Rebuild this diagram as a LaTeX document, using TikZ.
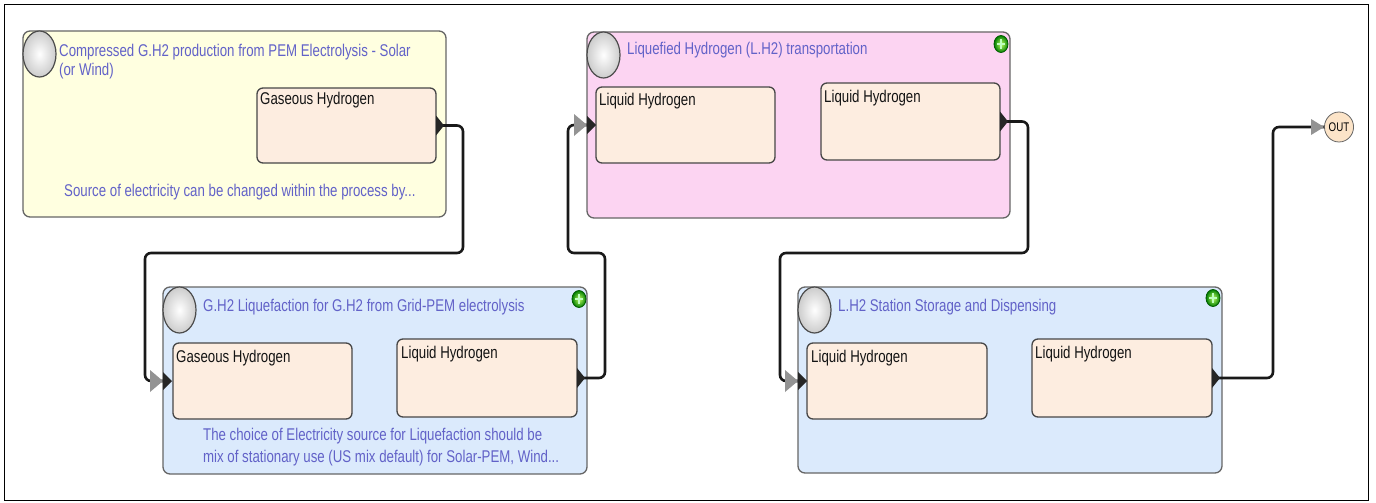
\documentclass[tikz,border=0pt]{standalone}
\usepackage{fontspec}
\newfontfamily\nar[FakeStretch=0.78]{Liberation Sans}
\usetikzlibrary{shapes.geometric,calc}
\definecolor{yel}{HTML}{FFFFE0}
\definecolor{pink}{HTML}{FCD4F2}
\definecolor{blu}{HTML}{DBEAFC}
\definecolor{inbg}{HTML}{FDEDE0}
\definecolor{ttlc}{HTML}{6262C8}
\definecolor{outc}{HTML}{FCE4C8}
\begin{document}
\begin{tikzpicture}[x=1pt,y=-1pt,
 bigbox/.style={draw=black!60, line width=1.3pt, rounded corners=7pt, anchor=north west, inner sep=0pt, outer sep=0pt},
 inbox/.style={draw=black!72, line width=1.3pt, fill=inbg, rounded corners=6pt, anchor=north west, inner sep=0pt, outer sep=0pt},
 ttl/.style={font=\nar\fontsize{17}{19}\selectfont, text=ttlc, anchor=north west, inner sep=0pt, align=left},
 foot/.style={font=\nar\fontsize{17}{22}\selectfont, text=ttlc, anchor=north west, inner sep=0pt, align=left},
 lbl/.style={font=\nar\fontsize{17}{19}\selectfont, text=black!92, anchor=north west, inner sep=0pt},
 ball/.style={ellipse, draw=black!70, line width=1.2pt, inner color=white, outer color=black!20, minimum width=33pt, minimum height=46pt, inner sep=0pt},
 plus/.style={ellipse, draw=green!35!black, line width=0.8pt, inner color=green!40!yellow!60!white, outer color=green!50!black, minimum width=14pt, minimum height=17pt, inner sep=0pt,
   path picture={\draw[white!75!green, line width=1.6pt] ([xshift=-4pt]path picture bounding box.center) -- ([xshift=4pt]path picture bounding box.center) ([yshift=-5pt]path picture bounding box.center) -- ([yshift=5pt]path picture bounding box.center);}},
 conn/.style={draw=black!90, line width=2.6pt, rounded corners=6pt},
 outtri/.style={fill=black!85},
 intri/.style={fill=gray!85}]
\useasboundingbox (0,0) rectangle (1376,503);
\draw[line width=1pt] (4.5,4.5) rectangle (1368,500);

% ---- box 1
\node[bigbox, fill=yel, minimum width=423pt, minimum height=186pt] (P1) at (23,31) {};
\node[ball] (c1) at (39.5,54) {};
\node[ttl] (t1) at (59,44) {Compressed G.H2 production from PEM Electrolysis - Solar\\(or Wind)};
\node[inbox, minimum width=179pt, minimum height=75pt] (B1) at (257,88) {};
\node[lbl] (l1) at (260,92) {Gaseous Hydrogen};
\node[foot] (f1) at (64,184) {Source of electricity can be changed within the process by...};

% ---- box 2
\node[bigbox, fill=blu, minimum width=424pt, minimum height=187pt] (P2) at (163,287) {};
\node[ball] (c2) at (179.5,310) {};
\node[plus] (g2) at (579,299) {};
\node[ttl] (t2) at (203,299) {G.H2 Liquefaction for G.H2 from Grid-PEM electrolysis};
\node[inbox, minimum width=179pt, minimum height=76pt] (B2A) at (173,343) {};
\node[lbl] (l2a) at (176,350) {Gaseous Hydrogen};
\node[inbox, minimum width=180pt, minimum height=78pt] (B2B) at (397,339) {};
\node[lbl] (l2b) at (401,346) {Liquid Hydrogen};
\node[foot] (f2) at (203,428) {The choice of Electricity source for Liquefaction should be\\mix of stationary use (US mix default) for Solar-PEM, Wind...};

% ---- box 3
\node[bigbox, fill=pink, minimum width=423pt, minimum height=186pt] (P3) at (587,32) {};
\node[ball] (c3) at (603.5,55) {};
\node[plus] (g3) at (1001,44) {};
\node[ttl] (t3) at (627,42) {Liquefied Hydrogen (L.H2) transportation};
\node[inbox, minimum width=179pt, minimum height=76pt] (B3A) at (596,87) {};
\node[lbl] (l3a) at (599,93) {Liquid Hydrogen};
\node[inbox, minimum width=179pt, minimum height=77pt] (B3B) at (821,83) {};
\node[lbl] (l3b) at (824,90) {Liquid Hydrogen};

% ---- box 4
\node[bigbox, fill=blu, minimum width=424pt, minimum height=186pt] (P4) at (798,287) {};
\node[ball] (c4) at (814.5,310) {};
\node[plus] (g4) at (1213,298) {};
\node[ttl] (t4) at (838,299) {L.H2 Station Storage and Dispensing};
\node[inbox, minimum width=180pt, minimum height=76pt] (B4A) at (807,343) {};
\node[lbl] (l4a) at (811,350) {Liquid Hydrogen};
\node[inbox, minimum width=180pt, minimum height=78pt] (B4B) at (1032,339) {};
\node[lbl] (l4b) at (1035,346) {Liquid Hydrogen};

% ---- OUT
\node[ellipse, draw=black!60, line width=0.8pt, fill=outc, minimum width=28pt, minimum height=30pt, inner sep=0pt, font=\nar\fontsize{12.5}{12.5}\selectfont] (OUT) at (1339,127) {OUT};

% ---- input port coordinates
\coordinate (i2) at (P2.west |- B2A.west);
\coordinate (i3) at (P3.west |- B3A.west);
\coordinate (i4) at (P4.west |- B4A.west);

% ---- connectors
\draw[conn] (B1.east) -- ++(27,0) |- (145,253) |- (i2);
\draw[conn] (B2B.east) -- ++(28,0) |- (568,253) |- (i3);
\draw[conn] (B3B.east) -- ++(28,0) |- (780,253) |- (i4);
\draw[conn] (B4B.east) -- ++(61,0) |- (OUT.west);

% ---- port triangles
\foreach \b in {B1,B2B,B3B,B4B}{
  \fill[outtri] (\b.east) +(0,-10) -- +(8,0) -- +(0,10) -- cycle;
}
\foreach \p in {i2,i3,i4}{
  \fill[intri] (\p) +(-13,-11) -- +(0,0) -- +(-13,11) -- cycle;
  \fill[outtri] (\p) +(0,-9) -- +(9,0) -- +(0,9) -- cycle;
}
\fill[intri] (OUT.west) +(-13,-8) -- +(0,0) -- +(-13,8) -- cycle;
\end{tikzpicture}
\end{document}
